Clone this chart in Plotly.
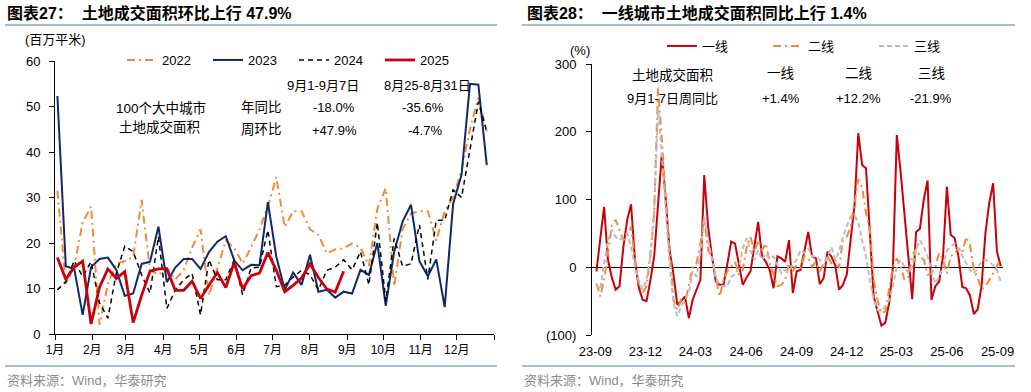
import plotly.graph_objects as go
import pandas as pd

# ---------------- Data: left chart (100 cities land transaction area, weekly) -------------
week_start_left = "2023-01-03"
month_labels = ["1月", "2月", "3月", "4月", "5月", "6月", "7月", "8月", "9月", "10月", "11月", "12月"]
area_2022 = [31.5, 11.0, 15.0, 24.5, 28.0, 2.0, 11.0, 15.5, 16.0, 17.0, 29.5, 14.0, 13.0, 14.5,
             12.0, 14.0, 19.0, 23.0, 8.5, 14.5, 20.5, 19.0, 15.5, 19.0, 23.0, 28.0, 34.5, 23.5,
             27.0, 27.0, 23.0, 21.8, 17.7, 18.6, 18.8, 19.9, 19.0, 15.0, 27.5, 32.0, 10.5, 23.0,
             26.5, 27.0, 27.0, 20.5, 27.0, 30.0, 36.0, 45.0, 52.0, 44.5]
area_2023 = [52.3, 14.9, 14.3, 4.2, 14.7, 16.5, 16.8, 14.1, 8.4, 8.9, 15.4, 15.9, 23.6, 11.4,
             14.6, 16.5, 16.5, 14.3, 18.0, 20.3, 21.5, 16.2, 14.0, 15.2, 15.1, 29.0, 17.0, 9.7,
             13.5, 10.8, 17.4, 9.3, 9.7, 8.0, 9.3, 8.9, 14.1, 13.0, 20.0, 6.2, 18.1, 24.7,
             28.4, 16.0, 12.7, 16.4, 5.9, 28.6, 35.0, 55.0, 54.8, 37.1]
area_2024 = [9.7, 11.5, 16.1, 12.6, 15.9, 6.8, 3.5, 13.4, 19.3, 18.1, 13.0, 9.0, 21.4, 5.6,
             9.7, 11.9, 13.3, 4.2, 16.3, 11.9, 11.9, 16.3, 8.6, 14.5, 14.7, 22.8, 10.4, 10.7,
             12.5, 14.0, 13.0, 9.7, 14.0, 14.7, 16.3, 14.1, 18.1, 10.8, 24.5, 7.3, 21.0, 14.9,
             15.4, 24.0, 12.0, 25.0, 25.0, 31.7, 30.0, 41.0, 51.0, 44.5]
area_2025 = [16.8, 12.0, 14.7, 16.0, 2.2, 10.3, 14.3, 12.2, 13.7, 2.5, 8.5, 13.8, 14.3, 14.3,
             9.6, 9.6, 11.6, 7.8, 10.7, 13.5, 10.2, 15.7, 9.9, 12.8, 13.4, 17.9, 14.0, 9.3,
             10.7, 12.3, 15.4, 12.4, 9.9, 9.2, 13.8]

# ---------------- Data: right chart (YoY % by city tier, weekly) -------------
week_start_right = "2023-09-03"
quarter_labels = ["23-09", "23-12", "24-03", "24-06", "24-09", "24-12", "25-03", "25-06", "25-09"]
quarter_dates = ["2023-09-01", "2023-12-01", "2024-03-01", "2024-06-01", "2024-09-01",
                 "2024-12-01", "2025-03-01", "2025-06-01", "2025-09-01"]
tier1 = [-6, 40, 89, 11, -15, -33, -28, 30, 70, 93, 11, -30, -48, -50, -20, 16, 95, 168, 100, 25,
         -10, -55, -50, -43, -75, -48, -33, -19, 136, 60, 16, -21, -26, -26, 5, 38, 35, 5, -26, -15,
         -6, 30, 67, 16, 8, -4, -31, 16, 13, 8, 40, -38, -6, -4, 23, 52, 16, 13, -25, -16,
         23, 16, 3, -33, -26, -11, 40, 90, 198, 151, 146, 50, -43, -65, -86, -82, -53, 1, 195, 140,
         80, 10, -47, 52, 57, 100, 128, -48, -28, -21, 16, 119, 48, 43, 16, -29, -31, -42, -69, -62,
         -28, 50, 95, 124, 23, 1.4]
tier2 = [-24, -43, -19, 25, 62, 70, 55, 40, 45, 60, 11, -24, -38, -28, 16, 80, 264, 190, 100, 20,
         -48, -63, -48, -53, -28, 1, 6, 35, 70, 25, 13, -14, -43, -19, -6, 1, 8, -11, -4, 30,
         45, 23, 40, 25, 35, 6, -11, -28, -26, -19, 6, -6, 3, -1, 16, 13, 1, 8, -6, 6,
         16, 6, 11, -1, 40, 45, 60, 94, 130, 118, 80, 55, -19, -48, -68, -65, -33, 1, 13, 1,
         -19, -14, 16, 28, 16, 11, -11, -9, 1, 21, 11, -9, 16, 21, 28, 21, 45, 33, -4, -16,
         -33, -28, -19, -9, 1, 12.2]
tier3 = [-26, -33, 6, 40, 55, 45, 40, 45, 50, 30, 1, -19, -33, -19, 16, 84, 235, 165, 84, 6,
         -53, -72, -58, -48, -38, -6, -14, 21, 75, 40, 11, -16, -26, -28, -28, -14, -11, -1, 28, 43,
         25, 11, 25, 11, 21, 13, 16, 3, -9, -4, -6, 3, 11, 25, 21, 28, 16, 16, 11, 1,
         16, 30, 11, 23, 45, 60, 75, 77, 65, 40, 16, -19, -48, -63, -65, -58, -48, -28, 1, 11,
         1, -9, 1, 25, 40, 30, 16, -4, -24, -14, 1, 25, 30, 35, 28, 16, 6, -4, -9, -1,
         8, 11, 8, 3, -4, -21.9]

W, H = 1031, 392
FONT = "Liberation Sans, Arial, Noto Sans CJK SC, sans-serif"


def px(x):
    return x / W


def py(y):
    return 1 - y / H


def weekly(start, n):
    return pd.date_range(start, periods=n, freq="7D")


fig = go.Figure()

# ---- left traces
left_series = [
    ("2022", area_2022, dict(color="#F28A3A", width=2, dash="8px,4px,2px,4px")),
    ("2023", area_2023, dict(color="#0E2A6B", width=2)),
    ("2024", area_2024, dict(color="#000000", width=1.5, dash="5px,4px")),
    ("2025", area_2025, dict(color="#C8000A", width=2.8)),
]
for name, vals, line in left_series:
    fig.add_trace(go.Scatter(x=weekly(week_start_left, len(vals)), y=vals, name=name,
                             mode="lines", line=line, xaxis="x", yaxis="y", legend="legend"))

# ---- right traces
right_series = [
    ("一线", tier1, dict(color="#C8000A", width=2)),
    ("二线", tier2, dict(color="#F28A3A", width=2, dash="8px,4px,2px,4px")),
    ("三线", tier3, dict(color="#BDBDBD", width=2, dash="5px,3px")),
]
for name, vals, line in right_series:
    fig.add_trace(go.Scatter(x=weekly(week_start_right, len(vals)), y=vals, name=name,
                             mode="lines", line=line, xaxis="x2", yaxis="y2", legend="legend2"))

month_ticks = [f"2023-{m:02d}-01" for m in range(1, 13)] + ["2024-01-01"]

fig.update_layout(
    width=W, height=H, margin=dict(l=0, r=0, t=0, b=0, autoexpand=False),
    paper_bgcolor="white", plot_bgcolor="white",
    font=dict(family=FONT, size=13, color="#000"),
    xaxis=dict(domain=[px(55), px(494)], anchor="y", type="date", automargin=False,
               range=["2023-01-01", "2024-01-01"], tickvals=month_ticks,
               ticktext=month_labels + [""], showgrid=False, zeroline=False,
               showline=True, linecolor="#000", linewidth=1, ticks="outside",
               ticklen=5, tickcolor="#000", tickfont=dict(size=12)),
    yaxis=dict(domain=[py(334), py(61)], anchor="x", range=[0, 60], dtick=10, automargin=False,
               showgrid=False, zeroline=False, showline=True, linecolor="#000",
               linewidth=1, ticks="outside", ticklen=5, tickcolor="#000",
               ticklabelstandoff=6, tickfont=dict(size=13)),
    xaxis2=dict(domain=[px(592), px(1003)], anchor="y2", type="date", automargin=False,
                range=["2023-08-26", "2025-09-11"], tickvals=quarter_dates,
                ticktext=quarter_labels, showgrid=False, zeroline=False, showline=False,
                ticks="", ticklabelstandoff=7, tickfont=dict(size=13)),
    yaxis2=dict(domain=[py(335), py(64)], anchor="x2", range=[-100, 300], automargin=False,
                tickvals=[-100, 0, 100, 200, 300],
                ticktext=["(100)", "0", "100", "200", "300"],
                showgrid=False, zeroline=True, zerolinecolor="#000", zerolinewidth=1,
                showline=True, linecolor="#000", linewidth=1, ticks="outside", ticklen=5,
                tickcolor="#000", ticklabelstandoff=7, tickfont=dict(size=13)),
    legend=dict(orientation="h", x=px(122), y=py(60), xanchor="left", yanchor="middle",
                entrywidth=41, bgcolor="rgba(0,0,0,0)", font=dict(size=13)),
    legend2=dict(orientation="h", x=px(662), y=py(46), xanchor="left", yanchor="middle",
                 entrywidth=61, bgcolor="rgba(0,0,0,0)", font=dict(size=13)),
)

annotations = [
    dict(x=px(5), y=py(13), text="<b>图表27：  土地成交面积环比上行 47.9%</b>", xanchor="left",
         font=dict(size=16)),
    dict(x=px(525), y=py(13), text="<b>图表28：  一线城市土地成交面积同比上行 1.4%</b>",
         xanchor="left", font=dict(size=16)),
    dict(x=px(55), y=py(39), text="(百万平米)", font=dict(size=13)),
    dict(x=px(580), y=py(51), text="(%)", font=dict(size=13)),
    dict(x=px(5), y=py(380), text="资料来源：Wind，华泰研究", xanchor="left",
         font=dict(size=13, color="#8c8c8c")),
    dict(x=px(522), y=py(380), text="资料来源：Wind，华泰研究", xanchor="left",
         font=dict(size=13, color="#8c8c8c")),
    # left text block
    dict(x=px(161), y=py(108), text="100个大中城市", font=dict(size=13.5)),
    dict(x=px(159), y=py(127), text="土地成交面积", font=dict(size=13.5)),
    dict(x=px(261), y=py(108), text="年同比", font=dict(size=13.5)),
    dict(x=px(261), y=py(129), text="周环比", font=dict(size=13.5)),
    dict(x=px(323), y=py(86), text="9月1-9月7日", font=dict(size=13)),
    dict(x=px(427), y=py(86), text="8月25-8月31日", font=dict(size=13)),
    dict(x=px(334), y=py(108), text="-18.0%", font=dict(size=13)),
    dict(x=px(334), y=py(130), text="+47.9%", font=dict(size=13)),
    dict(x=px(423), y=py(108), text="-35.6%", font=dict(size=13)),
    dict(x=px(425), y=py(130), text="-4.7%", font=dict(size=13)),
    # right text block
    dict(x=px(672), y=py(75), text="土地成交面积", font=dict(size=13.5)),
    dict(x=px(672), y=py(99), text="9月1-7日周同比", font=dict(size=13)),
    dict(x=px(780), y=py(74), text="一线", font=dict(size=13.5)),
    dict(x=px(858), y=py(74), text="二线", font=dict(size=13.5)),
    dict(x=px(931), y=py(74), text="三线", font=dict(size=13.5)),
    dict(x=px(781), y=py(99), text="+1.4%", font=dict(size=13)),
    dict(x=px(858), y=py(99), text="+12.2%", font=dict(size=13)),
    dict(x=px(931), y=py(99), text="-21.9%", font=dict(size=13)),
]
for a in annotations:
    a.setdefault("xref", "paper")
    a.setdefault("yref", "paper")
    a.setdefault("showarrow", False)
    a.setdefault("xanchor", "center")
    a.setdefault("yanchor", "middle")
    fig.add_annotation(**a)

sep = dict(type="line", xref="paper", yref="paper", line=dict(color="#A9BCD3", width=2))
for x0, x1 in [(5, 497), (522, 1015)]:
    for yy in (25, 366):
        fig.add_shape(**sep, x0=px(x0), x1=px(x1), y0=py(yy), y1=py(yy))

fig.write_html("out.html",
               config={"displayModeBar": False},
               post_script="document.body.style.margin='0';"
                           "document.documentElement.style.overflow='hidden';")
